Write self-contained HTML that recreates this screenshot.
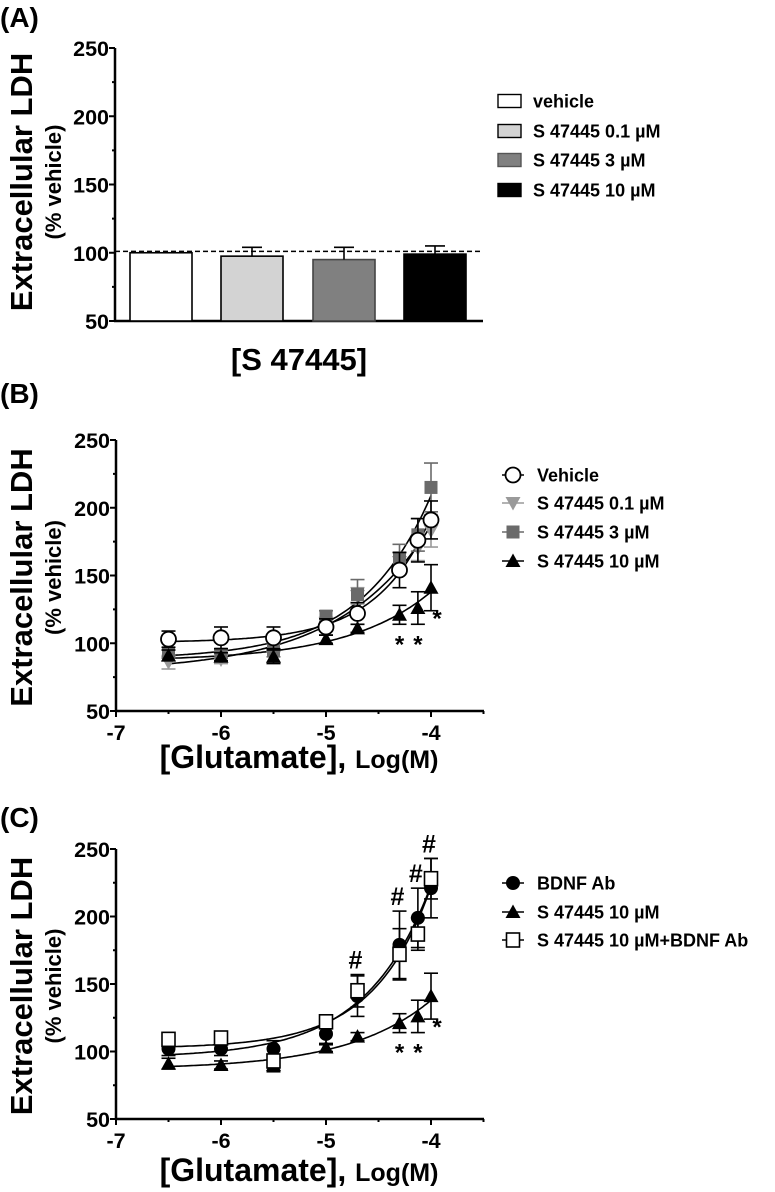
<!DOCTYPE html>
<html><head><meta charset="utf-8"><style>
body{margin:0;background:#fff}
svg{display:block;font-family:"Liberation Sans",Arial,sans-serif;font-weight:bold}
</style></head><body>
<svg id="fig" width="775" height="1192" viewBox="0 0 775 1192" xmlns="http://www.w3.org/2000/svg"></svg>
<script>
// ---- Panel A data ----
const barCats = ["vehicle","S 47445 0.1 µM","S 47445 3 µM","S 47445 10 µM"];
const barVals = [100, 97.5, 95, 99];
const barErr = [0, 6.5, 9, 6];
const barFill = ["#ffffff","#d3d3d3","#808080","#000000"];
const yTicks = [50,100,150,200,250];
const xTicks = [-7,-6,-5,-4];
// ---- Panel B/C data ----
const logConc = [-6.5,-6,-5.5,-5,-4.7,-4.3,-4.125,-4];
const bVehicle = [103,104,104,112,122,154,176,191];
const bVehicleErr = [6,8,8,6,8,13,16,14];
const b01 = [86,88,90,115,135,160,170,183];
const b01Err = [5,3,4,4,6,7,9,12];
const b3 = [93,92,95,120,136,163,180,215];
const b3Err = [4,3,5,4,11,10,12,18];
const b10 = [91,90,90,103,111,121,126,141];
const b10Err = [4,3,5,3,3,7,12,17];
const cBdnf = [102,102,102,113,141,179,199,221];
const cBdnfErr = [5,5,6,8,15,25,22,22];
const cCombo = [109,110,93,122,145,172,187,228];
const cComboErr = [4,4,4,4,12,19,12,15];
const starX = [-4.3,-4.125,-4];
const hashX = [-4.7,-4.3,-4.125,-4];

const NS="http://www.w3.org/2000/svg";
const svg=document.getElementById('fig');
function el(tag,attrs,parent,text){const e=document.createElementNS(NS,tag);for(const k in attrs)e.setAttribute(k,attrs[k]);if(text!==undefined)e.textContent=text;(parent||svg).appendChild(e);return e;}

function yTitle(cy){
  const t1=el('text',{x:0,y:0,'font-size':31,'text-anchor':'middle',transform:`translate(32,${cy}) rotate(-90)`},svg,'Extracellular LDH');
  
  
  const t2=el('text',{x:0,y:0,'font-size':22,'text-anchor':'middle',transform:`translate(61,${cy}) rotate(-90)`},svg,'(% vehicle)');
  
  
}
function panelLabel(txt,y){
  const t=el('text',{x:0,y:y,'font-size':28},svg,txt);
  
  
}
function yAxis(x0,yTop,yBot,sy,xEnd){
  const g=el('g',{});
  
  
  el('line',{x1:x0,y1:yTop,x2:x0,y2:yBot,stroke:'#000','stroke-width':2.5},g);
  el('line',{x1:x0-1,y1:yBot,x2:xEnd,y2:yBot,stroke:'#000','stroke-width':2.5},g);
  yTicks.forEach(v=>{const y=sy(v);
    el('line',{x1:x0-6,y1:y,x2:x0,y2:y,stroke:'#000','stroke-width':2},g);
    const t=el('text',{x:x0-6,y:y+8,'font-size':21.5,'text-anchor':'end'},g,String(v));
    
    
  });
  for(let v=75;v<250;v+=50){const y=sy(v);el('line',{x1:x0-3,y1:y,x2:x0,y2:y,stroke:'#000','stroke-width':2},g);}
}

// ================= Panel A =================
panelLabel('(A)',27);
(function(){
  const yB=321,yT=48;const sy=v=>yB-(v-50)*(yB-yT)/200;
  yTitle(182);
  yAxis(115,yT,yB,sy,483);
  const x0s=[130,221,313,404];const w=62;
  barVals.forEach((v,i)=>{
    const b=el('rect',{x:x0s[i],y:sy(v),width:w,height:yB-sy(v),fill:barFill[i],stroke:i==2?'#444':'#000','stroke-width':1.6});
    
    
    if(barErr[i]>0){const cx=x0s[i]+w/2;
      el('line',{x1:cx,y1:sy(v),x2:cx,y2:sy(v+barErr[i]),stroke:'#000','stroke-width':1.6});
      el('line',{x1:cx-10,y1:sy(v+barErr[i]),x2:cx+10,y2:sy(v+barErr[i]),stroke:'#000','stroke-width':1.6});}
  });
  const dl=el('line',{x1:115,y1:sy(101),x2:483,y2:sy(101),stroke:'#000','stroke-width':1.4,'stroke-dasharray':'5,3'});
  
  
  const xt=el('text',{x:299,y:370,'font-size':31,'text-anchor':'middle'},svg,'[S 47445]');
  
  
  const lg=el('g',{});
  
  
  const rows=[101,131,160,190];
  barCats.forEach((c,i)=>{
    const it=el('g',{},lg);
    
    
    el('rect',{x:498,y:rows[i]-6.5,width:23,height:13,fill:barFill[i],stroke:i==2?'#555':'#000','stroke-width':1.4},it);
    el('text',{x:533,y:rows[i]+6.5,'font-size':18},it,c);
  });
})();

// ================= XY panels =================
function marker(g,type,cx,cy,color){
  const r=6.5;
  if(type==='circleOpen')el('circle',{cx,cy,r:7.5,fill:'#fff',stroke:'#000','stroke-width':1.8},g);
  else if(type==='circle')el('circle',{cx,cy,r:7,fill:'#000'},g);
  else if(type==='tri')el('polygon',{points:`${cx},${cy-7.5} ${cx+7.5},${cy+6} ${cx-7.5},${cy+6}`,fill:color},g);
  else if(type==='triDown')el('polygon',{points:`${cx},${cy+7.5} ${cx+7.5},${cy-6} ${cx-7.5},${cy-6}`,fill:color},g);
  else if(type==='square')el('rect',{x:cx-r,y:cy-r,width:2*r,height:2*r,fill:color},g);
  else if(type==='squareOpen')el('rect',{x:cx-6.5,y:cy-7,width:13,height:14,fill:'#fff',stroke:'#000','stroke-width':1.6},g);
}
function fitCurve(xs,ys){ // least squares y = a + b*10^(k(x+4)), k chosen for best fit
  let best=null;
  for(let k=0.5;k<=1.2;k+=0.05){
    const u=xs.map(x=>Math.pow(10,k*(x+4)));const n=u.length;
    const mu=u.reduce((s,v)=>s+v,0)/n,my=ys.reduce((s,v)=>s+v,0)/n;
    let sxy=0,sxx=0;u.forEach((v,i)=>{sxy+=(v-mu)*(ys[i]-my);sxx+=(v-mu)*(v-mu);});
    const b=sxy/sxx,a=my-b*mu;let sse=0;u.forEach((v,i)=>{sse+=Math.pow(a+b*v-ys[i],2);});
    if(!best||sse<best.sse)best={a,b,k,sse};
  }
  return x=>best.a+best.b*Math.pow(10,best.k*(x+4));
}
function xyPanel(opt){
  const x0=116,xEnd=484,yB=opt.yB,yT=opt.yT;
  const sx=v=>x0+(v+7)*105;const sy=v=>yB-(v-50)*(yB-yT)/200;
  yTitle((yT+yB)/2+2);
  yAxis(x0,yT,yB,sy,xEnd);
  const ax=el('g',{});
  
  
  xTicks.forEach(v=>{el('line',{x1:sx(v),y1:yB,x2:sx(v),y2:yB+6,stroke:'#000','stroke-width':2},ax);
    const t=el('text',{x:sx(v),y:yB+29,'font-size':21.5,'text-anchor':'middle'},ax,String(v));
    
    });
  [-6.5,-5.5,-4.5,-3.5].forEach(v=>el('line',{x1:sx(v),y1:yB,x2:sx(v),y2:yB+3,stroke:'#000','stroke-width':2},ax));
  const xt=el('text',{x:299,y:yB+opt.titleOff,'font-size':32,'text-anchor':'middle'},svg,'');
  
  
  el('tspan',{},xt,'[Glutamate], ');el('tspan',{'font-size':25},xt,'Log(M)');
  // curves
  opt.series.forEach(s=>{
    const f=fitCurve(logConc,s.vals);let d='';
    for(let x=-6.5;x<=-3.999;x+=0.02){d+=(d?'L':'M')+sx(x).toFixed(1)+','+sy(f(x)).toFixed(1);}
    const p=el('path',{d,fill:'none',stroke:'#000','stroke-width':1.6});
    
    
  });
  // points
  opt.series.forEach(s=>{
    const g=el('g',{});
    
    
    s.vals.forEach((v,i)=>{const cx=sx(logConc[i]);const e=s.err[i];const ec=s.ecol||'#000';
      el('line',{x1:cx,y1:sy(v-e),x2:cx,y2:sy(v+e),stroke:ec,'stroke-width':1.6},g);
      el('line',{x1:cx-7,y1:sy(v+e),x2:cx+7,y2:sy(v+e),stroke:ec,'stroke-width':1.6},g);
      el('line',{x1:cx-7,y1:sy(v-e),x2:cx+7,y2:sy(v-e),stroke:ec,'stroke-width':1.6},g);
    });
    s.vals.forEach((v,i)=>marker(g,s.type,sx(logConc[i]),sy(v),s.color));
  });
  // stars under 10µM series
  starX.forEach(x=>{const i=logConc.indexOf(x);const v=b10[i]-b10Err[i];
    const t=el('text',{x:sx(x)+(x===-4?6:0),y:sy(v)+(x===-4?16:28),'font-size':24,'text-anchor':'middle'},svg,'*');
    
    });
  if(opt.hash){hashX.forEach(x=>{const i=logConc.indexOf(x);const top=Math.max(cBdnf[i]+cBdnfErr[i],cCombo[i]+cComboErr[i]);
    const t=el('text',{x:sx(x)-2,y:sy(top)-6,'font-size':25,'text-anchor':'middle'},svg,'#');
    
    });}
  // legend
  const lg=el('g',{});
  
  
  opt.series.forEach((s)=>{const y=opt.legY[s.leg];
    const it=el('g',{},lg);
    
    
    el('line',{x1:502,y1:y,x2:524,y2:y,stroke:s.ecol||'#000','stroke-width':1.6},it);
    marker(it,s.type,513,y,s.color);
    el('text',{x:537,y:y+6.5,'font-size':18},it,s.label);
  });
}
panelLabel('(B)',403);
xyPanel({yT:440,yB:711,titleOff:57,legY:[475,503,532,561],series:[
  {id:'s01',leg:1,label:'S 47445 0.1 µM',vals:b01,err:b01Err,type:'triDown',color:'#9a9a9a',ecol:'#9a9a9a'},
  {id:'s3',leg:2,label:'S 47445 3 µM',vals:b3,err:b3Err,type:'square',color:'#6a6a6a',ecol:'#6a6a6a'},
  {id:'s10',leg:3,label:'S 47445 10 µM',vals:b10,err:b10Err,type:'tri',color:'#000'},
  {id:'vehicle',leg:0,label:'Vehicle',vals:bVehicle,err:bVehicleErr,type:'circleOpen',color:'#fff'}
]});
panelLabel('(C)',827);
xyPanel({yT:849,yB:1119,titleOff:62,hash:true,legY:[883,912,940],series:[
  {id:'bdnf',leg:0,label:'BDNF Ab',vals:cBdnf,err:cBdnfErr,type:'circle',color:'#000'},
  {id:'s10',leg:1,label:'S 47445 10 µM',vals:b10,err:b10Err,type:'tri',color:'#000'},
  {id:'combo',leg:2,label:'S 47445 10 µM+BDNF Ab',vals:cCombo,err:cComboErr,type:'squareOpen',color:'#fff'}
]});
</script>
</body></html>
